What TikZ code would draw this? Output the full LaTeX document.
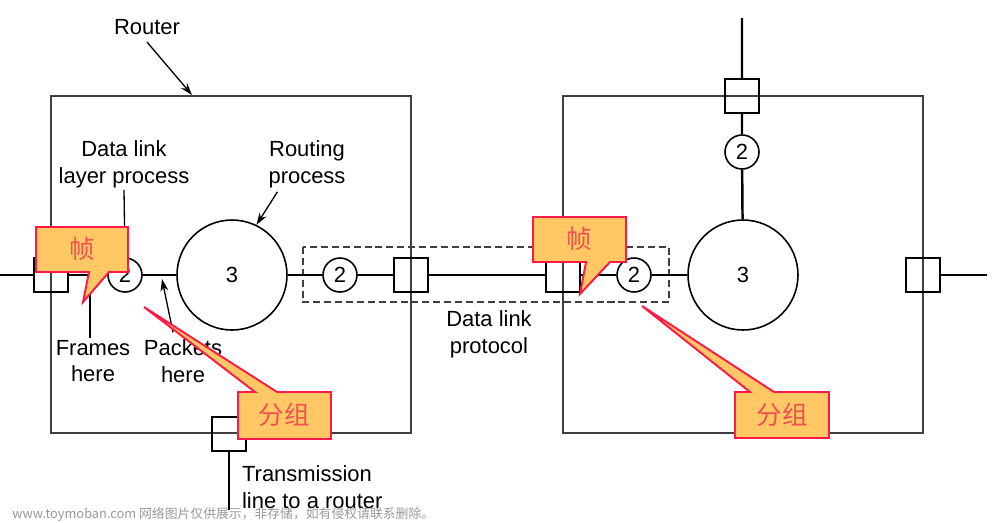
\documentclass[tikz,border=0pt]{standalone}
\usepackage{fontspec}
\setmainfont{Liberation Sans}
\newfontfamily\cjk{Noto Sans CJK SC}
\usepackage{xcolor}
\usetikzlibrary{arrows.meta,calc}
\definecolor{callfill}{RGB}{255,200,100}
\definecolor{callline}{RGB}{255,25,70}
\definecolor{calltext}{RGB}{240,80,80}

\begin{document}
\begin{tikzpicture}[
    x=0.02cm, y=-0.02cm,
    lbl/.style={align=center, font=\fontsize{12.5}{15.3}\selectfont, inner sep=1pt},
    ifc/.style={rectangle, draw, line width=0.75pt, minimum size=0.68cm, inner sep=0pt},
    pc/.style={circle, draw, line width=0.9pt, minimum size=0.68cm, inner sep=0pt, font=\fontsize{12.5}{15}\selectfont},
    bigc/.style={circle, draw, line width=0.9pt, minimum size=2.2cm, inner sep=0pt, font=\fontsize{12.5}{15}\selectfont},
    rbox/.style={draw=black!75, line width=0.75pt},
    dbox/.style={draw=black!75, line width=0.75pt, dash pattern=on 4pt off 2.2pt},
    lnk/.style={line width=1.4pt},
    thn/.style={line width=0.75pt},
    arr/.style={-{Stealth[length=7pt,width=4.5pt]}, line width=0.75pt},
    callout/.style={fill=callfill, draw=callline, line width=1.1pt, line join=miter},
    ctext/.style={font=\cjk\fontsize{14.5}{16}\selectfont, text=calltext}
]
    \useasboundingbox (0,0) rectangle (1000,522);

    % router boxes and the dashed link
    \draw[rbox] (51,96) rectangle (411,433);
    \draw[rbox] (563,96) rectangle (923,433);
    \draw[dbox] (303,247) rectangle (669,302);

    % interfaces and processes
    \node[ifc] (iL1) at (51,275) {};
    \node[pc] (pL1) at (125,275) {2};
    \node[bigc] (bL) at (232,275) {3};
    \node[pc] (pL2) at (340,275) {2};
    \node[ifc] (iL2) at (411,275) {};
    \node[ifc] (iL3) at (229,434) {};
    \node[ifc] (iR1) at (563,275) {};
    \node[pc] (pR1) at (634,275) {2};
    \node[bigc] (bR) at (743,275) {3};
    \node[ifc] (iR2) at (923,275) {};
    \node[ifc] (iR3) at (742,96) {};
    \node[pc] (pR2) at (742,152) {2};

    \coordinate (wL) at (0,275);
    \coordinate (eR) at (987,275);
    \coordinate (nR) at (742,18);
    \coordinate (sL) at (229,510);

    \draw[lnk] (wL) -- (iL1) -- (pL1) -- (bL) -- (pL2) -- (iL2) -- (iR1) -- (pR1) -- (bR);
    \draw[lnk] (iR2) -- (eR);
    \draw[lnk] (nR) -- (iR3) -- (pR2) -- (bR);
    \draw[lnk] (iL3) -- (sL);

    % labels
    \node[lbl] (rtr) at (147,27) {Router};
    \coordinate (rtip) at (192,95);
    \draw[arr] ([yshift=-3pt]rtr.south) -- (rtip);

    \node[lbl] (dllp) at (124,164) {Data link\\layer process};
    \draw[thn] (dllp.south) -- (pL1.north);

    \node[lbl] (rp) at (307,164) {Routing\\process};
    \draw[arr] ($(rp.south west)+(11,2)$) -- (bL.64);

    \node[lbl] (frm) at (93,361) {Frames\\here};
    \coordinate (ftop) at (90,280);
    \draw[thn] (frm.north -| ftop) -- (ftop);

    \node[lbl] (pkt) at (183,361) {Packets\\here};
    \coordinate (ptip) at (162,279);
    \draw[arr] ($(pkt.north)+(-10,-5)$) -- (ptip);

    \node[lbl] (dlp) at (489,334) {Data link\\protocol};
    \node[lbl, align=left, anchor=west] (tx) at (240,487) {Transmission\\line to a router};

    % callouts
    \path[callout] (36,227) -- (128,227) -- (128,272) -- (109,272) -- (83,302) -- (89,272) -- (36,272) -- cycle;
    \node[ctext] (zh1) at (82,249) {帧};
    \path[callout] (533,217) -- (626,217) -- (626,262) -- (610,262) -- (580,294) -- (586,262) -- (533,262) -- cycle;
    \node[ctext] (zh2) at (579,239) {帧};
    \path[callout] (238,392) -- (255,392) -- (144,307) -- (277,392) -- (331,392) -- (331,439) -- (238,439) -- cycle;
    \node[ctext] (zh3) at (284,415) {分组};
    \path[callout] (735,392) -- (750,392) -- (642,306) -- (774,392) -- (829,392) -- (829,438) -- (735,438) -- cycle;
    \node[ctext] (zh4) at (782,415) {分组};

    \node[anchor=west, font=\cjk\fontsize{7.3}{9}\selectfont, text=black!40, inner sep=0pt] (wm) at (12,515) {www.toymoban.com 网络图片仅供展示，非存储，如有侵权请联系删除。};
\end{tikzpicture}
\end{document}
